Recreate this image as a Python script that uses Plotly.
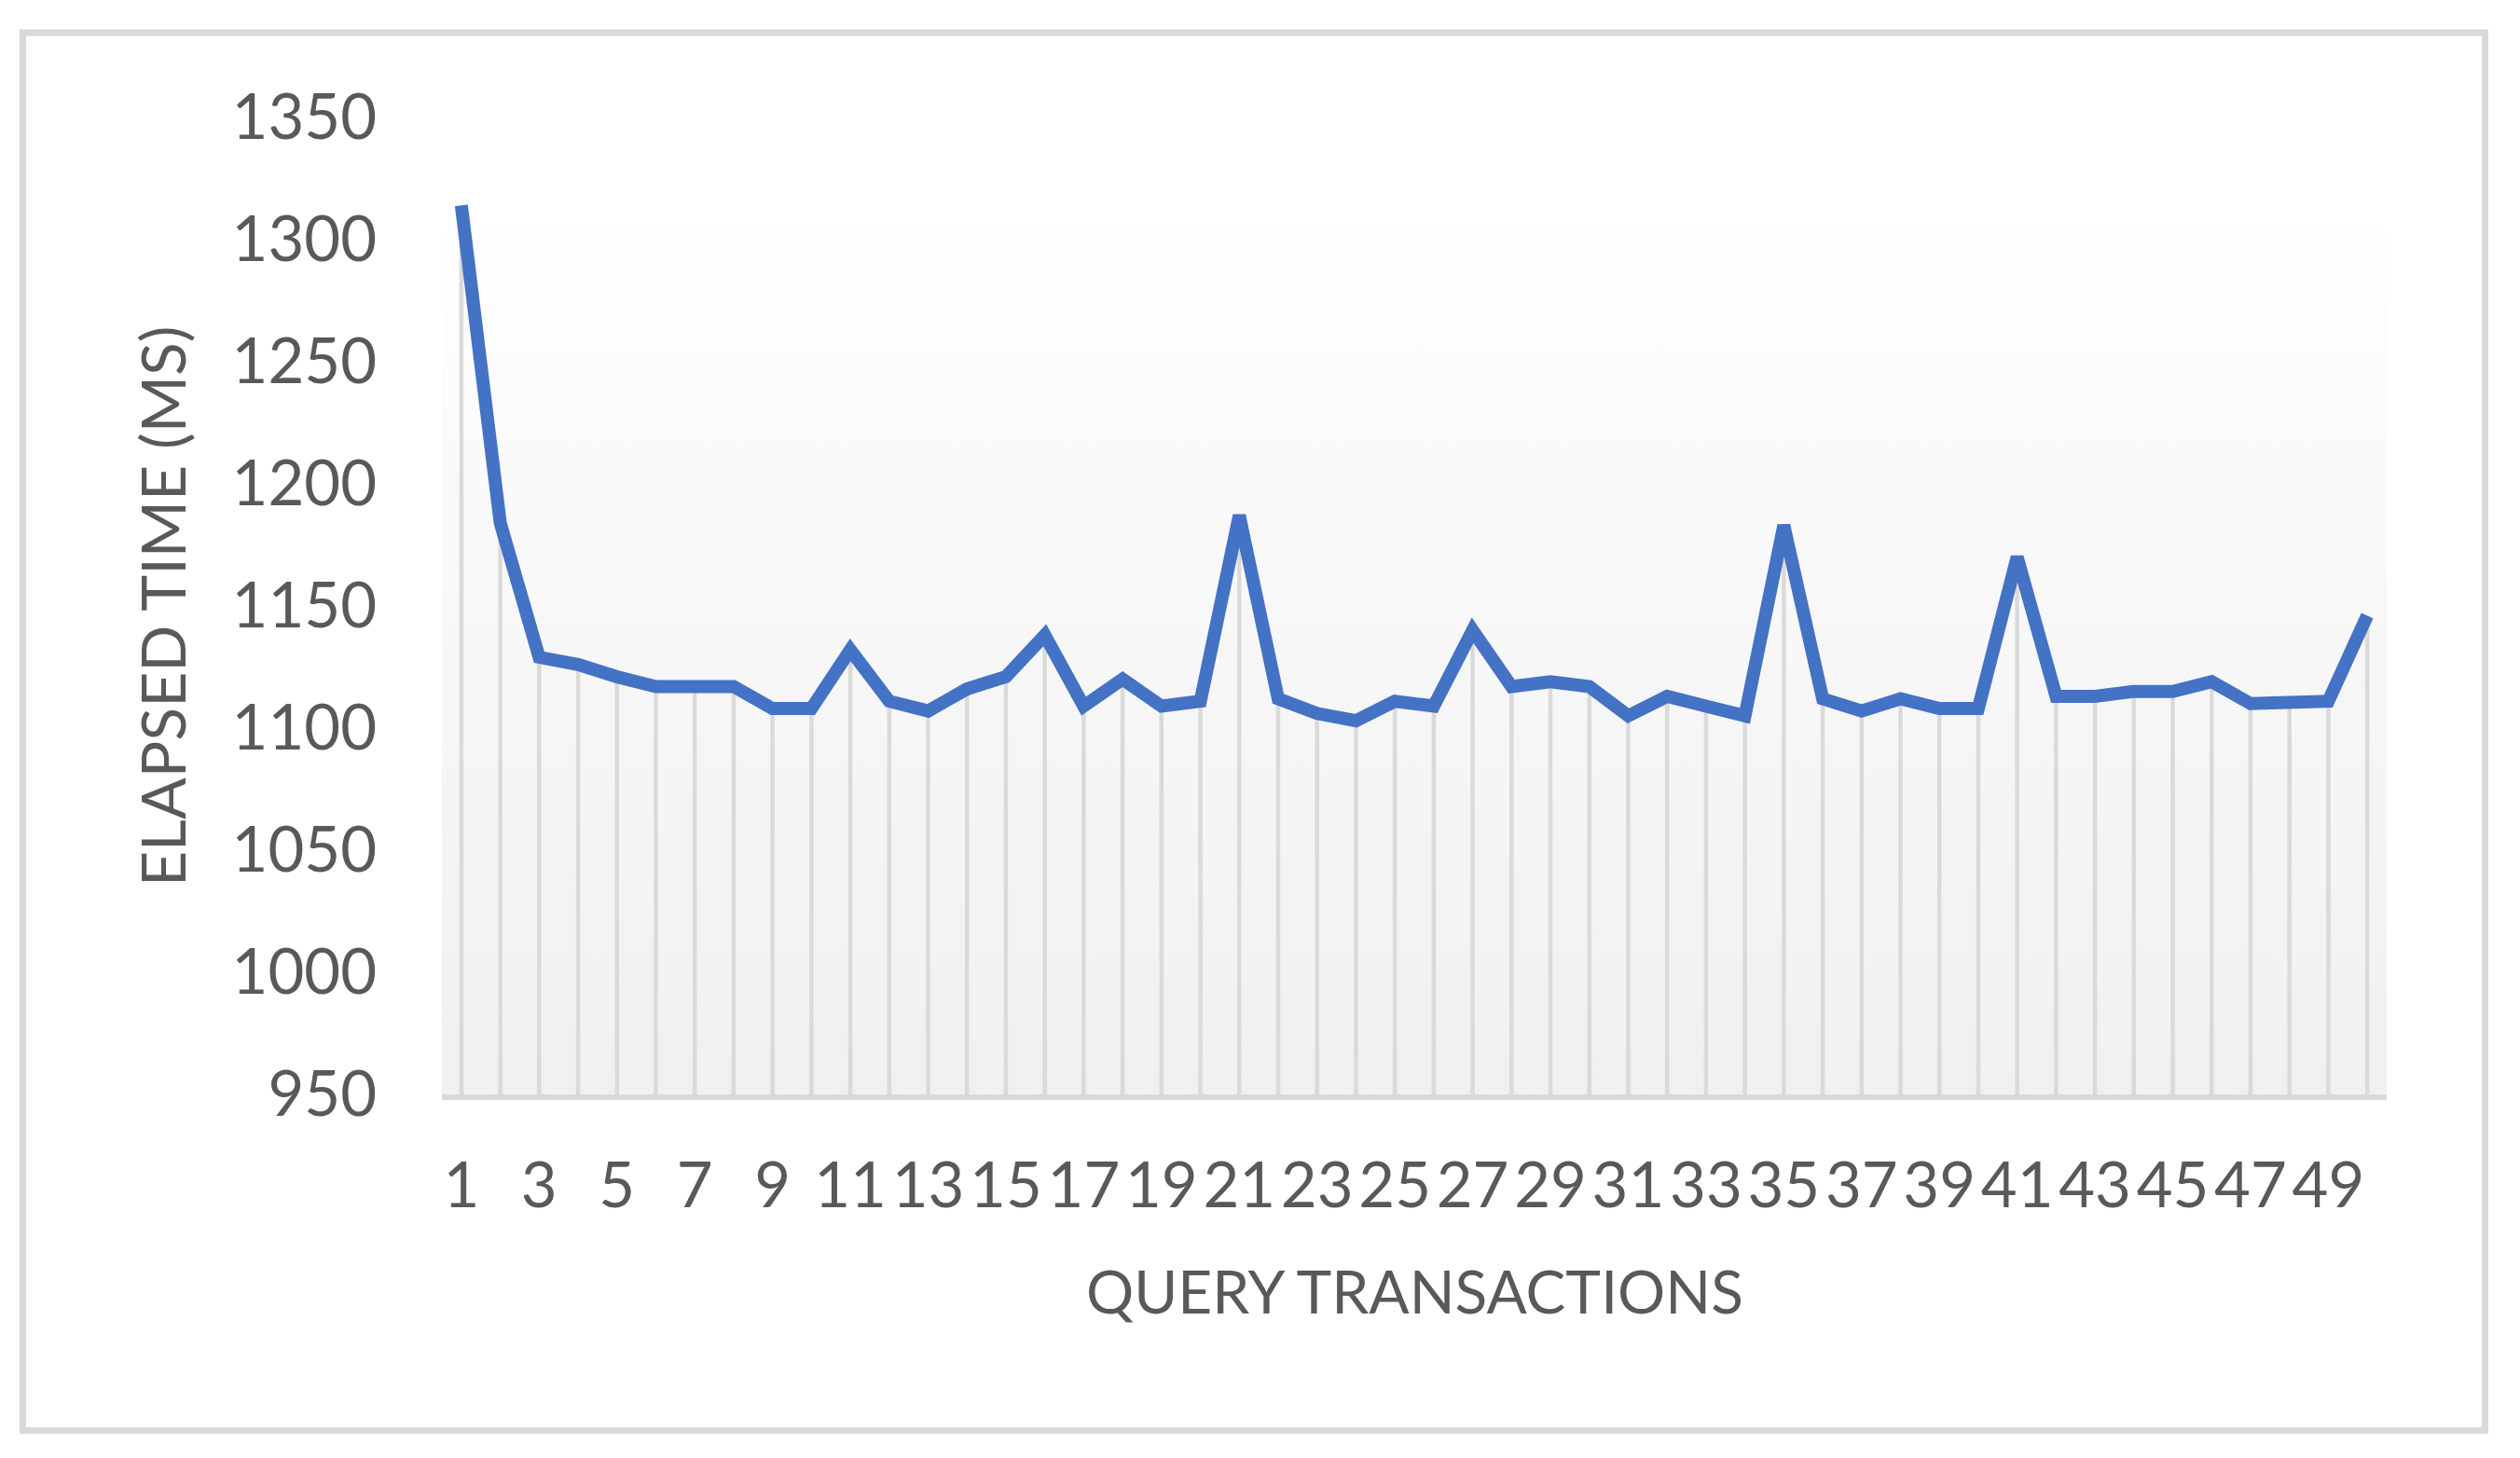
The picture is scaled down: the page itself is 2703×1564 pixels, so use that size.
import base64
import plotly.graph_objects as go

# ---- data ----
transactions = list(range(1, 51))
elapsed_ms = [1314, 1184, 1129, 1126, 1121, 1117, 1117, 1117, 1108, 1108,
              1132, 1111, 1107, 1116, 1121, 1138, 1109, 1120, 1109, 1111,
              1187, 1112, 1106, 1103, 1111, 1109, 1140, 1117, 1119, 1117,
              1105, 1113, 1109, 1105, 1183, 1112, 1107, 1112, 1108, 1108,
              1170, 1113, 1113, 1115, 1115, 1119, 1110, 1111, 1111, 1146]
x_tick_vals = list(range(1, 51, 2))
x_tick_text = [str(v) for v in x_tick_vals]
y_tick_vals = list(range(950, 1351, 50))
y_min, y_max = 950, 1350
area_top = 1304

TEXT = "#595959"
GRID = "#d9d9d9"
LINE = "#4472C4"
FONT = "Lato"

fig = go.Figure()

# drop lines from each point to the category axis
dx, dy = [], []
for xv, yv in zip(transactions, elapsed_ms):
    dx += [xv, xv, None]
    dy += [y_min, yv, None]
fig.add_trace(go.Scatter(x=dx, y=dy, mode="lines",
                         line=dict(color="#dadada", width=4.5),
                         hoverinfo="skip", showlegend=False))

fig.add_trace(go.Scatter(x=transactions, y=elapsed_ms, mode="lines",
                         line=dict(color=LINE, width=14),
                         showlegend=False))

# gradient backdrop behind the series
svg = ('<svg xmlns="http://www.w3.org/2000/svg" width="10" height="100" preserveAspectRatio="none">'
       '<defs><linearGradient id="g" x1="0" y1="0" x2="0" y2="1">'
       '<stop offset="0" stop-color="#fefefe"/><stop offset="1" stop-color="#f0f0f0"/>'
       '</linearGradient></defs><rect width="10" height="100" fill="url(#g)"/></svg>')
src = "data:image/svg+xml;base64," + base64.b64encode(svg.encode()).decode()
fig.add_layout_image(dict(source=src, xref="x", yref="y",
                          x=0.5, y=area_top, sizex=50, sizey=area_top - y_min,
                          sizing="stretch", layer="below", xanchor="left", yanchor="top"))

OFF = 8  # page body margin
W, H = 2703 - 2 * OFF, 1564 - 2 * OFF
# plot area in page pixels: x 474..2560, y 126..1174
L = 474 - OFF
T = 126 - OFF
R = W - (2560 - OFF)
B = H - (1174 - OFF)
pw, ph = W - L - R, H - T - B

def px(xp):  # page pixel -> paper x
    return (xp - OFF - L) / pw

def py(yp):  # page pixel -> paper y
    return (H - B - (yp - OFF)) / ph

fig.update_layout(
    width=W, height=H,
    margin=dict(l=L, r=R, t=T, b=B),
    paper_bgcolor="white", plot_bgcolor="white",
    font=dict(family=FONT, color=TEXT, size=67),
    xaxis=dict(range=[0.5, 50.5], tickmode="array", tickvals=x_tick_vals,
               ticktext=x_tick_text, showgrid=False, zeroline=False,
               showline=True, linecolor=GRID, linewidth=6, ticks="",
               ticklabelstandoff=35, tickfont=dict(size=67, color=TEXT, family=FONT)),
    yaxis=dict(range=[y_min, y_max], tickmode="array", tickvals=y_tick_vals,
               showgrid=False, zeroline=False, showline=False, ticks="",
               ticklabelstandoff=69, tickfont=dict(size=67, color=TEXT, family=FONT)),
    annotations=[
        dict(text="QUERY TRANSACTIONS", xref="paper", yref="paper",
             x=0.5, y=py(1384), xanchor="center", yanchor="middle",
             showarrow=False, font=dict(size=64, color=TEXT, family=FONT)),
        dict(text="ELAPSED TIME (MS)", xref="paper", yref="paper",
             x=px(173), y=py(650), xanchor="center", yanchor="middle",
             textangle=-90, showarrow=False,
             font=dict(size=66, color=TEXT, family=FONT)),
    ],
    shapes=[dict(type="rect", xref="paper", yref="paper",
                 x0=px(24.5), x1=px(2665.5), y0=py(1534.5), y1=py(35),
                 line=dict(color=GRID, width=7), fillcolor="rgba(0,0,0,0)",
                 layer="below")],
)

fig.write_html("out.html")
